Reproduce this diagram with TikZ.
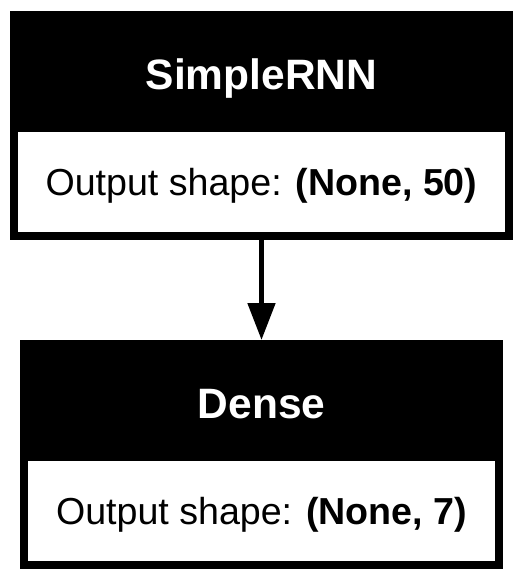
\documentclass[tikz,border=0pt]{standalone}
\usepackage{fontspec}
\setmainfont{Liberation Sans}
\usetikzlibrary{arrows.meta}

\tikzset{
  layerframe/.style={rectangle, draw=black, fill=black, line width=8pt,
    outer sep=4pt, inner sep=0pt, minimum height=221pt},
  shapecell/.style={rectangle, fill=white, inner sep=0pt, minimum height=100pt},
  headtext/.style={text=white, inner sep=0pt, anchor=base,
    font=\fontsize{42.5}{50}\selectfont\bfseries},
  bodytext/.style={text=black, inner sep=0pt, anchor=base,
    font=\fontsize{37.6}{44}\selectfont},
  flow/.style={draw=black, line width=5pt,
    -{Triangle[length=37pt,width=27pt]}}
}

\begin{document}
\begin{tikzpicture}[x=1pt,y=-1pt]
  % canvas
  \fill[white] (0,0) rectangle (524,581);
  \useasboundingbox (0,0) rectangle (524,581);

  % SimpleRNN layer
  \node[layerframe, minimum width=495pt] (rnn) at (261.5,125.5) {};
  \node[shapecell, minimum width=487pt] (rnnbody) at (261.5,182) {};
  \node[headtext] (rnnname) at (261.5,89) {SimpleRNN};
  \node[bodytext] (rnnshape) at (261.5,195) {Output shape: \textbf{(None, 50)}};

  % Dense layer
  \node[layerframe, minimum width=475pt] (dense) at (261.5,454.5) {};
  \node[shapecell, minimum width=467pt] (densebody) at (261.5,511) {};
  \node[headtext] (densename) at (261.5,418) {Dense};
  \node[bodytext] (denseshape) at (261.5,524) {Output shape: \textbf{(None, 7)}};

  % connection
  \draw[flow] (rnn.south) -- (dense.north);
\end{tikzpicture}
\end{document}
